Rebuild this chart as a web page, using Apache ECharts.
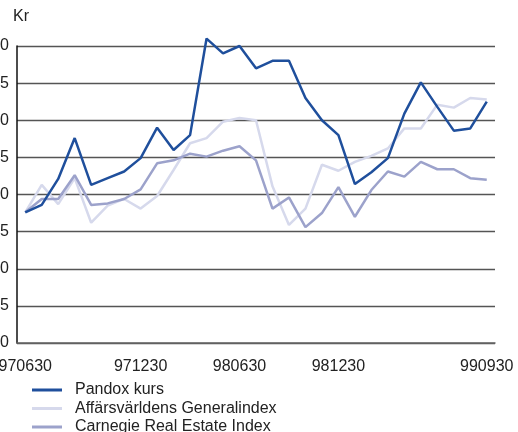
<!DOCTYPE html>
<html>
<head>
<meta charset="utf-8">
<script src="https://cdn.jsdelivr.net/npm/echarts@6/dist/echarts.min.js"></script>
<style>
  html, body { margin: 0; padding: 0; background: #fff; }
  #chart { width: 518px; height: 432px; }
</style>
</head>
<body>
<div id="chart"></div>
<script>
// Kategorier (ett värde per punkt), etiketter endast på vissa
var categories = ['970630', '', '', '', '', '', '', '971230', '', '', '', '', '', '980630',
    '', '', '', '', '', '981230', '', '', '', '', '', '', '', '', '990930'];

var pandox = [17.6, 18.6, 22.1, 27.6, 21.3, 22.2, 23.1, 24.9, 29.0, 26.0, 28.0, 41.0, 39.0, 40.0,
    37.0, 38.0, 38.0, 33.0, 30.0, 28.0, 21.4, 23.0, 24.9, 30.9, 35.1, 31.8, 28.6, 28.9, 32.5];

var generalindex = [17.6, 21.3, 18.7, 22.2, 16.2, 18.5, 19.4, 18.1, 19.8, 23.3, 26.9, 27.6, 29.8, 30.3,
    30.0, 21.1, 15.9, 18.1, 24.0, 23.2, 24.4, 25.2, 26.2, 28.9, 28.9, 32.1, 31.7, 33.0, 32.8];

var carnegie = [17.6, 19.4, 19.4, 22.6, 18.6, 18.8, 19.4, 20.7, 24.2, 24.6, 25.5, 25.1, 25.9, 26.5,
    24.6, 18.1, 19.6, 15.6, 17.5, 21.0, 17.0, 20.6, 23.1, 22.4, 24.4, 23.4, 23.4, 22.2, 22.0];

var seriesNames = ['Pandox kurs', 'Affärsvärldens Generalindex', 'Carnegie Real Estate Index'];
var seriesColors = ['#1f4f9c', '#d6d9ec', '#9ca2cb'];

var chart = echarts.init(document.getElementById('chart'));

var font = 'Liberation Sans, Arial, sans-serif';

var option = {
    animation: false,
    textStyle: { fontFamily: font },
    graphic: [{
        type: 'text',
        left: 13,
        top: 9,
        style: { text: 'Kr', fontSize: 16, fill: '#222', fontFamily: font }
    }],
    legend: {
        orient: 'vertical',
        left: 32,
        top: 382,
        height: 60,
        padding: 0,
        itemWidth: 30,
        itemHeight: 3,
        itemGap: 2.5,
        icon: 'rect',
        textStyle: { fontSize: 16, color: '#222', lineHeight: 16, padding: [0, 0, 0, 8] },
        data: seriesNames
    },
    grid: {
        left: 17,
        right: 23,
        top: 46,
        bottom: 89,
        outerBoundsMode: 'none',
        containLabel: false
    },
    xAxis: {
        type: 'category',
        boundaryGap: true,
        data: categories,
        axisLine: { lineStyle: { color: '#666', width: 1.5 } },
        axisTick: { show: false },
        axisLabel: {
            interval: 0,
            margin: 16,
            fontSize: 16,
            color: '#222'
        }
    },
    yAxis: {
        type: 'value',
        min: 0,
        max: 40,
        interval: 5,
        axisLine: { show: true, lineStyle: { color: '#111', width: 1.5 } },
        axisTick: { show: false },
        axisLabel: { margin: 8, fontSize: 16, color: '#222' },
        splitLine: { lineStyle: { color: '#555', width: 1.3 } }
    },
    series: [
        {
            name: seriesNames[1],
            type: 'line',
            data: generalindex,
            showSymbol: false,
            clip: false,
            color: seriesColors[1],
            lineStyle: { width: 2.5, color: seriesColors[1] },
            z: 2
        },
        {
            name: seriesNames[2],
            type: 'line',
            data: carnegie,
            showSymbol: false,
            clip: false,
            color: seriesColors[2],
            lineStyle: { width: 2.5, color: seriesColors[2] },
            z: 3
        },
        {
            name: seriesNames[0],
            type: 'line',
            data: pandox,
            showSymbol: false,
            clip: false,
            color: seriesColors[0],
            lineStyle: { width: 2.5, color: seriesColors[0] },
            z: 4
        }
    ]
};

chart.setOption(option);
</script>
</body>
</html>
